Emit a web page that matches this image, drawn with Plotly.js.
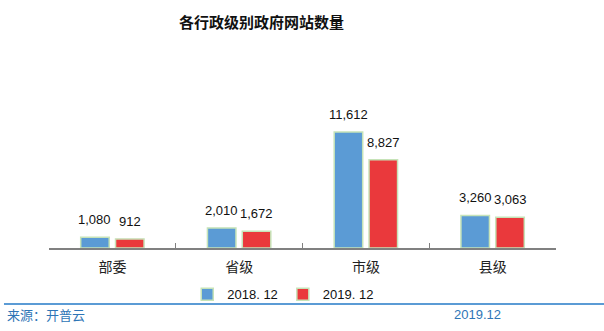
<!DOCTYPE html>
<html>
<head>
<meta charset="utf-8">
<script src="https://cdn.plot.ly/plotly-3.0.1.min.js"></script>
<style>html,body{margin:0;padding:0;background:#fff;}#chart{width:604px;height:331px;}</style>
</head>
<body>
<div id="chart"></div>
<script>
const categories = ["部委", "省级", "市级", "县级"];
const seriesNames = ["2018. 12", "2019. 12"];
const values2018 = [1080, 2010, 11612, 3260];
const values2019 = [912, 1672, 8827, 3063];
const sourceText = "来源：开普云";
const dateText = "2019.12";

const idx = categories.map((c, i) => i);
const barW = 0.225, gap = 0.05;
const off1 = -gap / 2 - barW, off2 = gap / 2;
const fmt = v => v.toLocaleString("en-US");
const cjk = '"Noto Sans CJK SC", "Microsoft YaHei", sans-serif';
const lat = '"Liberation Sans", Arial, sans-serif';

const barLine = {color: "#c6e3b8", width: 1.5};
const traces = [
  {type: "bar", name: seriesNames[0], x: idx, y: values2018, width: barW, offset: off1,
   marker: {color: "#5b9bd5", line: barLine}, hoverinfo: "none"},
  {type: "bar", name: seriesNames[1], x: idx, y: values2019, width: barW, offset: off2,
   marker: {color: "#ea393c", line: barLine}, hoverinfo: "none"},
  {type: "scatter", x: [-0.5, 3.5], y: [0, 0], xaxis: "x2", mode: "none", showlegend: false, hoverinfo: "none"}
];

const annotations = [];
values2018.forEach((v, i) => annotations.push({x: i + off1 + barW / 2, y: v, text: fmt(v), showarrow: false,
  yanchor: "bottom", yshift: 8, font: {family: lat, size: 13, color: "#111"}}));
values2019.forEach((v, i) => annotations.push({x: i + off2 + barW / 2, y: v, text: fmt(v), showarrow: false,
  yanchor: "bottom", yshift: 8, font: {family: lat, size: 13, color: "#111"}}));
annotations.push({xref: "paper", yref: "paper", x: -0.0868, y: -0.478, xanchor: "left", yanchor: "middle",
  text: sourceText, showarrow: false, font: {family: cjk, size: 13, color: "#2e75b6"}});
annotations.push({xref: "paper", yref: "paper", x: 0.8955, y: -0.478, xanchor: "right", yanchor: "middle",
  text: dateText, showarrow: false, font: {family: lat, size: 13, color: "#2e75b6"}});

const layout = {
  width: 604, height: 331,
  margin: {l: 49, r: 48, t: 108, b: 83},
  paper_bgcolor: "#fff", plot_bgcolor: "#fff",
  title: {text: "各行政级别政府网站数量", font: {family: cjk, size: 15, color: "#111", weight: "bold"},
    xref: "paper", x: 0.419, xanchor: "center", yref: "container", y: 0.93, yanchor: "middle"},
  xaxis: {type: "linear", range: [-0.5, 3.5], tickvals: idx, ticktext: categories, ticks: "",
    showgrid: false, zeroline: false, showline: false, ticklabelstandoff: 9,
    tickfont: {family: cjk, size: 14, color: "#222"}},
  xaxis2: {type: "linear", overlaying: "x", side: "bottom", range: [-0.5, 3.5],
    tickvals: [-0.5, 0.5, 1.5, 2.5, 3.5], ticks: "inside", ticklen: 5, tickcolor: "#808080", tickwidth: 1,
    showticklabels: false, showgrid: false, zeroline: false, showline: true, linecolor: "#808080", linewidth: 1.5,
    anchor: "y"},
  yaxis: {range: [0, 14000], visible: false, showgrid: false, zeroline: false},
  showlegend: true,
  legend: {orientation: "h", xref: "paper", x: 0.462, xanchor: "center", yref: "paper", y: -0.33, yanchor: "middle",
    bgcolor: "rgba(0,0,0,0)",
    font: {family: lat, size: 13, color: "#111"}, itemwidth: 30, traceorder: "normal"},
  shapes: [{type: "line", xref: "paper", yref: "paper", x0: -0.0888, x1: 1.0947, y0: -0.4, y1: -0.4,
    line: {color: "#5b9bd5", width: 2}}],
  annotations: annotations
};

Plotly.newPlot("chart", traces, layout, {staticPlot: true, displayModeBar: false});
</script>
</body>
</html>
